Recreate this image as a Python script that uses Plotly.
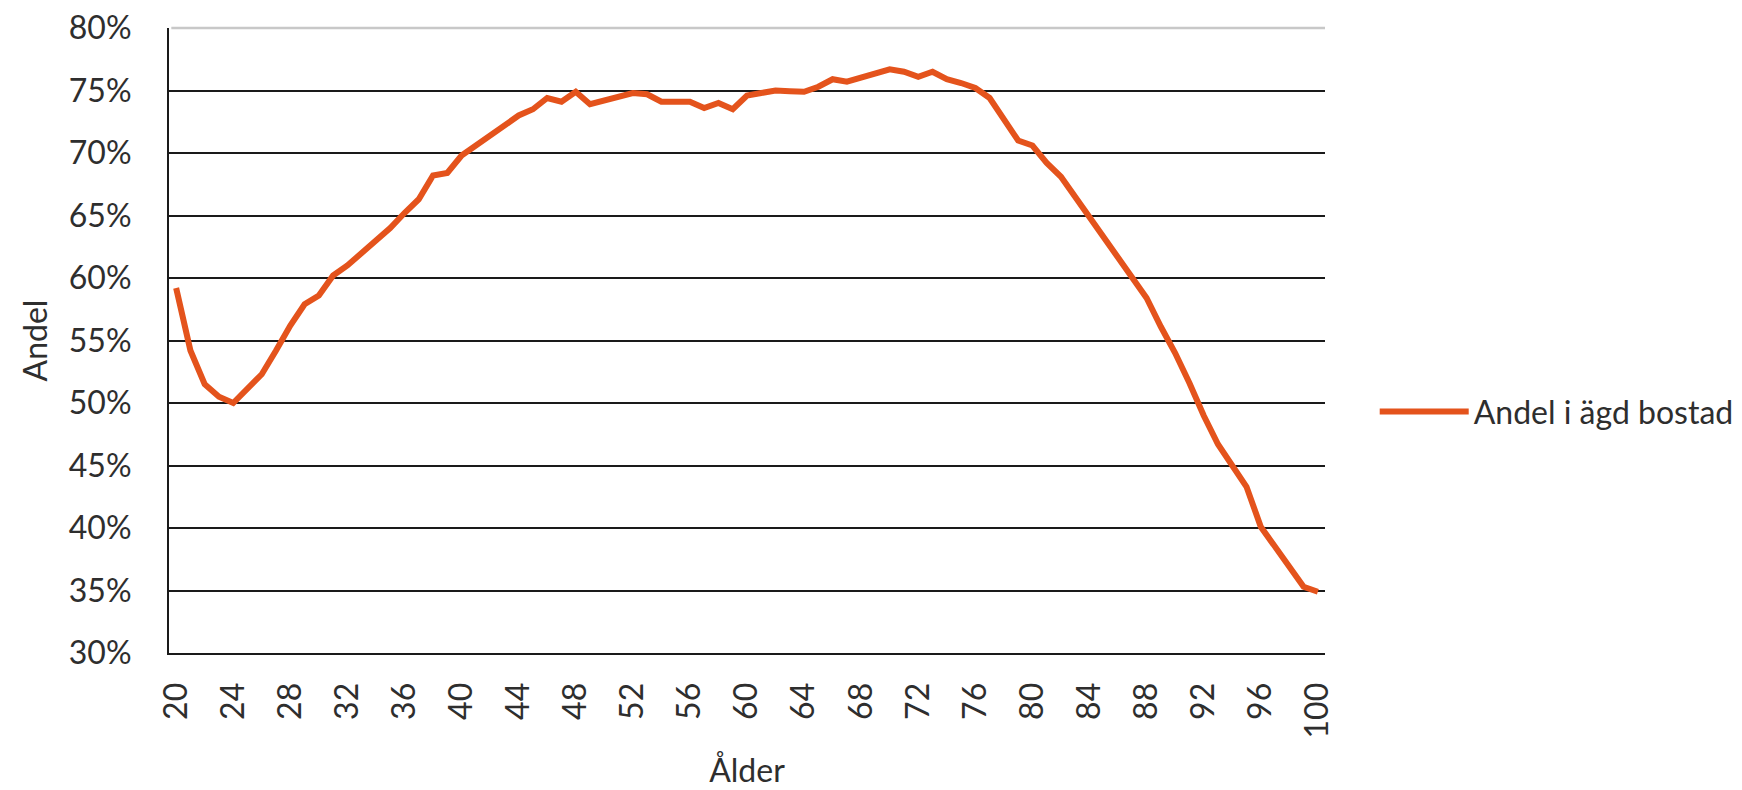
import plotly.graph_objects as go

ages = list(range(20, 101))
andel = [
    59.2, 54.2, 51.5, 50.5, 50.0, 51.2, 52.3, 54.2, 56.2, 57.9,   # 20-29
    58.6, 60.2, 61.0, 62.0, 63.0, 64.0, 65.2, 66.3, 68.2, 68.4,   # 30-39
    69.8, 70.6, 71.5, 72.3, 73.0, 73.5, 74.4, 74.1, 74.9, 73.9,   # 40-49
    74.2, 74.5, 74.8, 74.7, 74.1, 74.1, 74.1, 73.6, 74.0, 73.5,   # 50-59
    74.6, 74.8, 75.0, 74.95, 74.9, 75.3, 75.9, 75.7, 76.0, 76.4,  # 60-69
    76.7, 76.5, 76.1, 76.5, 75.9, 75.6, 75.2, 74.4, 72.6, 71.0,   # 70-79
    70.6, 69.2, 68.1, 66.5, 64.8, 63.2, 61.6, 60.2, 58.4, 56.1,   # 80-89
    54.0, 51.6, 49.0, 46.7, 45.0, 43.3, 40.1, 38.5, 37.0, 35.3,   # 90-99
    34.9,                                                          # 100
]
x_ticks = list(range(20, 101, 4))
y_ticks = list(range(30, 81, 5))

series_name = "Andel i ägd bostad"
x_title = "Ålder"
y_title = "Andel"

FONT = "Lato"
TXT = "#2e2e2e"
ORANGE = "#E4531C"

fig = go.Figure()
fig.add_trace(go.Scatter(
    x=ages, y=andel, mode="lines", name=series_name,
    line=dict(color=ORANGE, width=6),
    showlegend=True,
))

fig.update_layout(
    width=1742, height=790,
    margin=dict(l=161, r=425, t=20, b=145, autoexpand=False),
    paper_bgcolor="white", plot_bgcolor="white",
    font=dict(family=FONT, size=32, color=TXT),
    showlegend=True,
    legend=dict(x=1.043, y=0.386, xanchor="left", yanchor="middle",
                font=dict(family=FONT, size=32, color=TXT),
                itemwidth=89, bgcolor="rgba(0,0,0,0)"),
    xaxis=dict(
        range=[19.5, 100.5], tickmode="array", tickvals=x_ticks,
        ticktext=[str(v) for v in x_ticks], tickangle=-90,
        showgrid=False, zeroline=False, automargin=False,
        showline=True, linecolor="#1a1a1a", linewidth=2,
        ticks="", ticklabelstandoff=15, ticklabeloverflow="allow",
        tickfont=dict(family=FONT, size=32, color=TXT),
        title=dict(text=x_title, font=dict(family=FONT, size=32, color=TXT), standoff=22),
    ),
    yaxis=dict(
        range=[30, 80], tickmode="array", tickvals=y_ticks,
        ticktext=[f"{v}%" for v in y_ticks],
        showgrid=True, gridcolor="#1a1a1a", gridwidth=2,
        zeroline=False, automargin=False,
        showline=True, linecolor="#1a1a1a", linewidth=2,
        ticks="", ticklabelstandoff=29, ticklabeloverflow="allow",
        tickfont=dict(family=FONT, size=32, color=TXT),
        title=dict(text=y_title, font=dict(family=FONT, size=32, color=TXT), standoff=12),
    ),
    shapes=[dict(type="line", xref="paper", yref="paper", x0=0.002, x1=1, y0=1, y1=1,
                 line=dict(color="#c8c8c8", width=2.5), layer="below")],
)

fig.write_html("out.html")
